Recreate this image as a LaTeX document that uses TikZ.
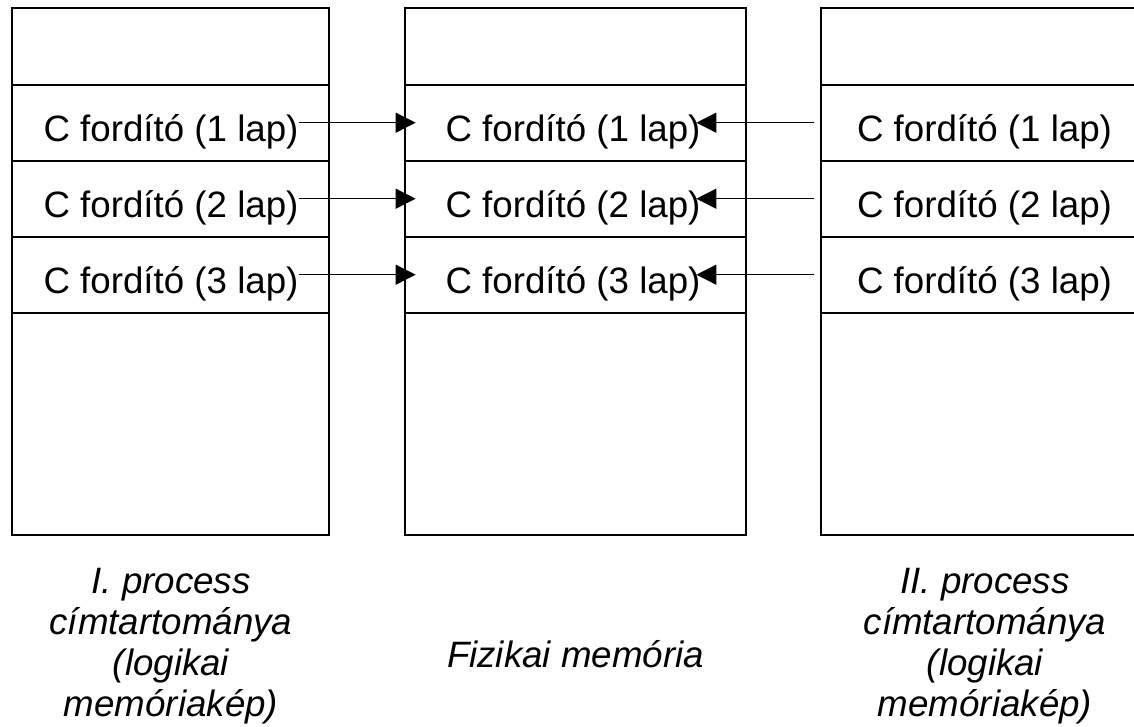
\documentclass[tikz,border=0pt]{standalone}
\usepackage{fontspec}
\setmainfont{Liberation Sans}
\usetikzlibrary{arrows.meta}
\tikzset{
  keret/.style={line width=2pt},
  lap/.style={inner sep=0pt, text height=38pt, text depth=0pt,
    font=\fontsize{36.7}{43}\selectfont},
  cimke/.style={inner sep=0pt, align=center,
    font=\fontsize{36.7}{41}\selectfont\itshape},
  nyil/.style={line width=1.3pt, -{Triangle[length=20pt,width=20pt]}}
}
\begin{document}
\begin{tikzpicture}[x=1pt,y=-1pt]
\useasboundingbox (0,0) rectangle (1134,727);
% the three memory columns
\draw[keret] (12,8) rectangle (329,535);
\draw[keret] (405,8) rectangle (746,535);
\draw[keret] (1134,8) -- (821,8) -- (821,535) -- (1134,535);
\foreach \y in {84.7,160.7,236.7,312.7}{
  \draw[keret] (12,\y) -- (329,\y);
  \draw[keret] (405,\y) -- (746,\y);
  \draw[keret] (821,\y) -- (1134,\y);
}
% pages of the compiler
\foreach \i/\y in {1/122.7,2/198.7,3/274.7}{
  \node[lap] (l\i) at (171,\y) {C fordító (\i\ lap)};
  \node[lap] (m\i) at (573,\y) {C fordító (\i\ lap)};
  \node[lap] (r\i) at (984.5,\y) {C fordító (\i\ lap)};
  \draw[nyil, shorten >=29.7pt] (l\i.east) -- (m\i.west);
  \draw[nyil, shorten <=43pt, shorten >=-4.3pt] (r\i.west) -- (m\i.east);
}
% captions
\node[cimke, anchor=north] (cl) at (171,568) {I. process\\címtartománya\\(logikai\\memóriakép)};
\node[cimke, anchor=base] (cm) at (575.5,667) {Fizikai memória};
\node[cimke, anchor=north] (cr) at (985,568) {II. process\\címtartománya\\(logikai\\memóriakép)};
\end{tikzpicture}
\end{document}
